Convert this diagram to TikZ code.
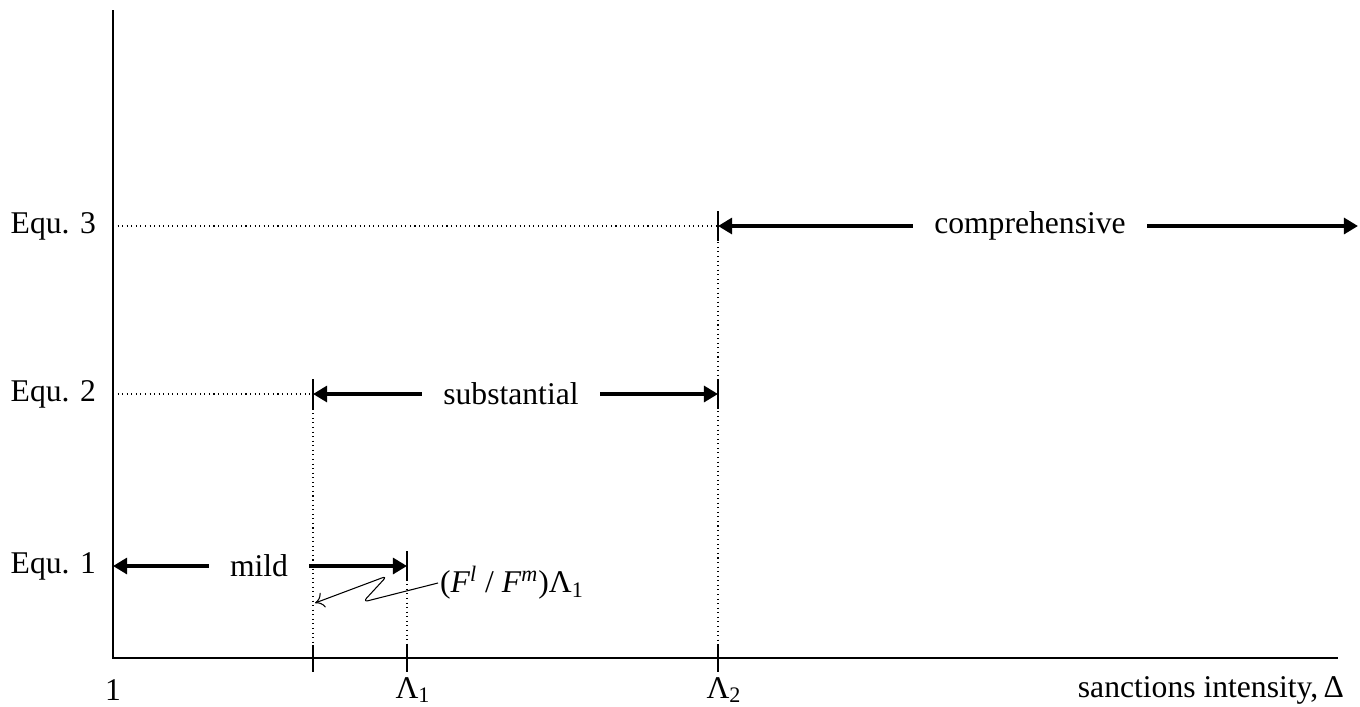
\documentclass[tikz,border=0pt]{standalone}
\usepackage{fontspec}
\setmainfont{Liberation Serif}
\usetikzlibrary{positioning,arrows.meta,calc}
\tikzset{
  axis/.style={line width=1.2pt},
  guide/.style={dotted,line width=0.6pt},
  span/.style={-{Triangle[length=8pt,width=9pt]},line width=2.2pt},
  bar/.style={line width=1pt},
  lbl/.style={font=\fontsize{18}{21}\selectfont,inner sep=1pt},
  gap/.style={lbl,inner xsep=12pt},
  pointer/.style={-{To[length=5pt,width=9pt]},line width=0.6pt,rounded corners=3pt},
}

\begin{document}
\begin{tikzpicture}[x=0.02cm,y=-0.02cm]
\useasboundingbox (0,0) rectangle (1360,707);
% axes and ticks
\coordinate (o) at (113,658);
\coordinate (ytop) at (113,10);
\coordinate (xend) at (1338,658);
\draw[axis] (ytop) -- (o) -- (xend);
\coordinate (t0) at (313,658);
\coordinate (t1) at (407,658);
\coordinate (t2) at (718,658);
\foreach \t in {t0,t1,t2} \draw[bar] ($(\t)+(0,-13)$) -- ($(\t)+(0,14)$);
\node[lbl] (one) at (113,690) {1};
\node[lbl] (lam1) at (413,690) {Λ\textsubscript{1}};
\node[lbl] (lam2) at (724,690) {Λ\textsubscript{2}};
\node[lbl,anchor=east] (xlab) at (1346,690) {sanctions intensity,\,Δ};
% equilibrium levels
\node[lbl,anchor=east] (e3) at (98,226) {Equ. 3};
\node[lbl,anchor=east] (e2) at (98,394) {Equ. 2};
\node[lbl,anchor=east] (e1) at (98,566) {Equ. 1};
\coordinate (c0) at (718,226);
\coordinate (c1) at (1358,226);
\coordinate (s0) at (313,394);
\coordinate (s1) at (718,394);
\coordinate (m0) at (113,566);
\coordinate (m1) at (407,566);
\draw[guide] (113,226) -- (c0) -- (t2);
\draw[guide] (113,394) -- (s0) -- (t0);
\draw[guide] (m1) -- (t1);
\foreach \p in {c0,s0,s1,m1} \draw[bar] ($(\p)+(0,-15)$) -- ($(\p)+(0,15)$);
% spans
\node[gap] (comp) at (1030,226) {comprehensive};
\node[gap] (subs) at (511,394) {substantial};
\node[gap] (mild) at (259,566) {mild};
\draw[span] (comp.west) -- (c0);
\draw[span] (comp.east) -- (c1);
\draw[span] (subs.west) -- (s0);
\draw[span] (subs.east) -- (s1);
\draw[span] (mild.west) -- (m0);
\draw[span] (mild.east) -- (m1);
% pointer to (F^l/F^m) Lambda_1
\node[lbl,anchor=west] (ratio) at (438,583) {(\textit{F}\textsuperscript{\textit{l}} / \textit{F}\textsuperscript{\textit{m}})Λ\textsubscript{1}};
\coordinate (q) at (315,603);
\draw[pointer] (ratio.west) -- (363,602) -- (387,576) -- (q);
\end{tikzpicture}
\end{document}
